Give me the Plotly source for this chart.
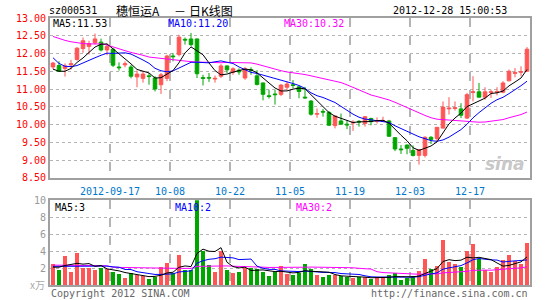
import plotly.graph_objects as go
import pandas as pd

# ---------------- data ----------------
tick_labels = ["2012-09-17", "10-08", "10-22", "11-05", "11-19", "12-03", "12-17"]
tick_index = [10, 20, 30, 40, 50, 60, 70]  # trading-day index of each labelled date

open_ = [11.62, 11.66, 11.58, 11.68, 11.83, 12.14, 12.20, 12.30, 12.32, 12.10,
         12.12, 11.62, 11.68, 11.62, 11.34, 11.30, 11.37, 11.31, 11.12, 11.30,
         11.93, 11.97, 12.40, 12.41, 12.41, 11.32, 11.32, 11.28, 11.36, 11.65,
         11.47, 11.53, 11.31, 11.55, 11.37, 11.17, 10.81, 10.86, 10.85, 11.05,
         11.12, 11.06, 10.77, 10.66, 10.29, 10.37, 10.34, 9.97, 10.10, 10.01,
         10.04, 10.09, 10.03, 10.17, 10.09, 10.09, 10.10, 9.63, 9.31, 9.42,
         9.27, 9.13, 9.13, 9.64, 9.60, 9.90, 10.44, 10.45, 10.44, 10.18,
         10.90, 10.92, 10.77, 10.90, 10.91, 10.91, 11.23, 11.44, 11.47, 11.50]
high = [11.76, 11.78, 11.72, 11.82, 12.18, 12.45, 12.36, 12.56, 12.42, 12.28,
        12.15, 11.75, 11.78, 11.68, 11.52, 11.50, 11.45, 11.36, 11.45, 11.96,
        12.01, 12.53, 12.45, 12.58, 12.42, 11.40, 11.45, 11.38, 11.70, 11.66,
        11.61, 11.58, 11.62, 11.61, 11.53, 11.18, 10.98, 10.98, 11.14, 11.21,
        11.25, 11.08, 11.06, 10.69, 10.45, 10.44, 10.38, 10.25, 10.31, 10.12,
        10.12, 10.12, 10.24, 10.19, 10.20, 10.22, 10.13, 9.64, 9.42, 9.44,
        9.41, 9.31, 9.67, 9.67, 9.93, 10.65, 10.77, 10.65, 10.60, 10.89,
        11.36, 11.17, 11.05, 10.98, 11.05, 11.22, 11.55, 11.59, 11.64, 12.18]
low = [11.56, 11.49, 11.35, 11.55, 11.80, 12.02, 11.97, 12.25, 12.06, 11.95,
       11.62, 11.52, 11.61, 11.30, 11.05, 11.18, 11.12, 10.93, 10.86, 11.22,
       11.78, 11.92, 12.25, 12.20, 11.31, 11.10, 11.20, 11.18, 11.31, 11.45,
       11.40, 11.40, 11.26, 11.40, 11.10, 10.68, 10.73, 10.56, 10.80, 10.97,
       11.02, 10.74, 10.73, 10.25, 10.19, 10.22, 9.96, 9.89, 9.99, 9.87,
       9.82, 9.94, 9.94, 9.98, 10.03, 10.07, 9.65, 9.25, 9.17, 9.16,
       9.10, 8.87, 9.07, 9.45, 9.53, 9.88, 10.28, 10.39, 10.18, 10.16,
       10.65, 10.76, 10.70, 10.75, 10.82, 10.88, 11.22, 11.33, 11.36, 11.49]
close = [11.73, 11.50, 11.65, 11.71, 12.15, 12.36, 12.28, 12.41, 12.10, 12.20,
         11.67, 11.60, 11.71, 11.36, 11.42, 11.42, 11.35, 11.00, 11.40, 11.93,
         11.91, 12.46, 12.38, 12.25, 11.43, 11.30, 11.31, 11.30, 11.65, 11.54,
         11.57, 11.48, 11.57, 11.53, 11.13, 10.85, 10.79, 10.84, 11.11, 11.14,
         11.10, 10.93, 10.75, 10.29, 10.31, 10.35, 9.98, 10.24, 10.01, 9.99,
         10.06, 10.07, 10.22, 10.08, 10.11, 10.11, 9.67, 9.31, 9.29, 9.33,
         9.13, 9.29, 9.64, 9.58, 9.92, 10.49, 10.46, 10.47, 10.26, 10.84,
         10.92, 10.77, 10.92, 10.92, 10.93, 11.17, 11.50, 11.46, 11.49, 12.12]
volume = [2.47, 1.68, 3.36, 1.48, 3.80, 2.00, 2.00, 1.72, 2.00, 1.80,
          1.53, 1.29, 0.74, 1.40, 1.20, 0.98, 0.62, 0.90, 2.07, 2.54,
          1.40, 3.56, 1.68, 1.68, 10.30, 3.95, 2.30, 1.55, 3.95, 1.68,
          1.40, 1.50, 2.00, 2.00, 1.90, 1.50, 1.00, 1.50, 2.20, 1.29,
          1.14, 1.33, 2.50, 1.84, 1.18, 0.86, 1.18, 1.14, 1.06, 0.94,
          0.78, 0.94, 0.94, 0.67, 0.94, 0.86, 1.14, 1.33, 0.55, 0.78,
          1.06, 1.57, 2.98, 1.84, 2.24, 5.25, 2.63, 2.43, 2.12, 4.00,
          4.78, 3.02, 1.73, 1.45, 2.04, 2.90, 3.45, 2.82, 2.43, 4.98]

# moving-average values before a full window exists
ma5_head = [11.56, 11.50, 11.50, 11.58]
ma10_head = [11.88, 11.72, 11.64, 11.63, 11.66, 11.74, 11.81, 11.88, 11.95]
ma30_head = [12.48, 12.42, 12.37, 12.33, 12.30, 12.28, 12.27, 12.27, 12.27, 12.24,
             12.18, 12.13, 12.08, 12.03, 12.00, 11.95, 11.90, 11.88, 11.85, 11.83,
             11.81, 11.79, 11.78, 11.77, 11.76, 11.75, 11.75, 11.74, 11.74]
vma5_head = [2.10, 2.10, 2.30, 2.40]
vma10_head = [2.20, 2.20, 2.20, 2.25, 2.25, 2.20, 2.20, 2.20, 2.20]
vma30_head = [2.35, 2.35, 2.34, 2.34, 2.33, 2.32, 2.31, 2.30, 2.28, 2.26,
              2.10, 2.08, 2.06, 2.05, 2.03, 2.02, 2.00, 1.99, 1.98, 1.98,
              1.97, 1.97, 1.96, 1.96, 2.20, 2.22, 2.22, 2.22, 2.24]

header_code = "sz000531"
header_name = "穗恒运A"
header_kind = "日K线图"
header_time = "2012-12-28 15:00:53"
ma_texts = ["MA5:11.53", "MA10:11.20", "MA30:10.32"]
vma_texts = ["MA5:3", "MA10:2", "MA30:2"]

# ---------------- styling ----------------
RED = "#FF5555"
GREEN = "#00A600"
C_MA5, C_MA10, C_MA30 = "#000000", "#0000FF", "#FF00FF"
MONO = "DejaVu Sans Mono"

W, H = 545, 300
L, R, T, B = 50, 15, 18, 15
PW, PH = W - L - R, H - T - B


def fx(px):
    return (px - L) / PW


def fy(py):
    return (H - B - py) / PH


def rolling_with_head(values, n, head):
    s = pd.Series(values, dtype=float).rolling(n).mean()
    s.iloc[:len(head)] = head
    return s.tolist()


idx = list(range(len(close)))
ma5 = rolling_with_head(close, 5, ma5_head)
ma10 = rolling_with_head(close, 10, ma10_head)
ma30 = rolling_with_head(close, 30, ma30_head)
vma5 = rolling_with_head(volume, 5, vma5_head)
vma10 = rolling_with_head(volume, 10, vma10_head)
vma30 = rolling_with_head(volume, 30, vma30_head)
vol_colors = [RED if c >= o else GREEN for o, c in zip(open_, close)]

fig = go.Figure()
fig.add_trace(go.Candlestick(
    x=idx, open=open_, high=high, low=low, close=close,
    increasing=dict(line=dict(color=RED, width=1), fillcolor=RED),
    decreasing=dict(line=dict(color=GREEN, width=1), fillcolor=GREEN),
    whiskerwidth=0, xaxis="x", yaxis="y", hoverinfo="skip"))
for ys, col in ((ma30, C_MA30), (ma10, C_MA10), (ma5, C_MA5)):
    fig.add_trace(go.Scatter(x=idx, y=ys, mode="lines", line=dict(color=col, width=1),
                             xaxis="x", yaxis="y", hoverinfo="skip"))
fig.add_trace(go.Bar(x=idx, y=volume, marker=dict(color=vol_colors, line=dict(width=0)),
                     width=0.8, xaxis="x2", yaxis="y2", hoverinfo="skip"))
for ys, col in ((vma30, C_MA30), (vma10, C_MA10), (vma5, C_MA5)):
    fig.add_trace(go.Scatter(x=idx, y=ys, mode="lines", line=dict(color=col, width=1),
                             xaxis="x2", yaxis="y2", hoverinfo="skip"))

tickvals = [i - 0.5 for i in tick_index]
main_bottom = fy(177.75)
vol_top = fy(200.3)

axis_common = dict(range=[-0.5, len(close) - 0.5], tickvals=tickvals, showgrid=True,
                   gridcolor="#B4B4B4", griddash="dash", gridwidth=1.5, zeroline=False,
                   showline=True, mirror=True, linecolor="#A0A0A0", linewidth=2, ticks="")

fig.update_layout(
    width=W, height=H, margin=dict(l=L, r=R, t=T, b=B, autoexpand=False),
    paper_bgcolor="white", plot_bgcolor="white", showlegend=False, boxgap=0.15,
    bargap=0,
    xaxis=dict(domain=[0, 1], anchor="y", ticktext=tick_labels, ticklabelstandoff=3,
               tickfont=dict(family=MONO, size=10, color="#0077CC"),
               rangeslider=dict(visible=False), **axis_common),
    yaxis=dict(domain=[main_bottom, 1], range=[8.5, 13.0], dtick=0.5, tick0=8.5,
               tickformat=".2f", showgrid=True, gridcolor="#B4B4B4", griddash="dot",
               zeroline=False, showline=True, mirror=True, linecolor="#A0A0A0",
               linewidth=2, ticks="", tickfont=dict(family=MONO, size=10, color="#FF0000")),
    xaxis2=dict(domain=[0, 1], anchor="y2", showticklabels=False, **axis_common),
    yaxis2=dict(domain=[0, vol_top], range=[0, 10], tickvals=[2, 4, 6, 8, 10],
                ticktext=["2", "4", "6", "8", "10"], showgrid=True, gridcolor="#B4B4B4",
                griddash="dot", zeroline=False, showline=True, mirror=True,
                linecolor="#A0A0A0", linewidth=2, ticks="",
                tickfont=dict(family=MONO, size=10, color="#999999")),
)


def note(text, px, py, color="#000000", anchor="left", size=10, family=MONO, **kw):
    fig.add_annotation(text=text, x=fx(px), y=fy(py), xref="paper", yref="paper",
                       xanchor=anchor, yanchor="middle", showarrow=False,
                       font=dict(family=family, size=size, color=color), **kw)


note(header_code, 47, 11)
note(header_name, 114, 11, size=12, family="Noto Sans CJK SC")
note("－", 180, 11, anchor="center", size=12, family="Noto Sans CJK SC")
note(header_kind, 187, 11, size=12, family="Noto Sans CJK SC")
note(header_time, 509, 11, anchor="right")
note(ma_texts[0], 51, 23, C_MA5)
note(ma_texts[1], 166, 23, C_MA10)
note(ma_texts[2], 282, 23, C_MA30)
note(vma_texts[0], 53, 207, C_MA5)
note(vma_texts[1], 173, 207, C_MA10)
note(vma_texts[2], 294, 207, C_MA30)
note("x万", 28, 284, "#AAAAAA", size=10, family="Noto Sans CJK SC")
note("Copyright 2012 SINA.COM", 49, 293, "#666666")
note("http://finance.sina.com.cn", 530, 293, "#666666", anchor="right")
note("<i><b>sina</b></i>", 527, 164, "#C8C8C8", anchor="right", size=17, family="DejaVu Sans")

fig.write_html("out.html")
